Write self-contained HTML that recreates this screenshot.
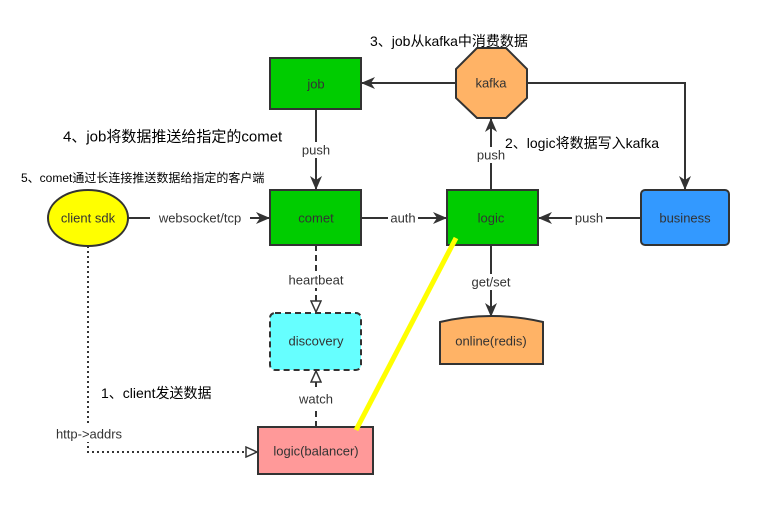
<!DOCTYPE html>
<html><head><meta charset="utf-8"><style>
body{margin:0;background:#fff}
svg text{font-family:"Liberation Sans","Noto Sans CJK SC",sans-serif}
</style></head><body>
<svg width="761" height="506" xmlns="http://www.w3.org/2000/svg">
<defs>
<marker id="a" markerWidth="14" markerHeight="12" refX="13" refY="6" orient="auto" markerUnits="userSpaceOnUse"><path d="M0,0 L14,6 L0,12 L4,6 Z" fill="#333"/></marker>
<marker id="h" markerWidth="13" markerHeight="12" refX="12" refY="6" orient="auto" markerUnits="userSpaceOnUse"><path d="M1,1 L12,6 L1,11 Z" fill="#fff" stroke="#333" stroke-width="1.5"/></marker>
</defs>
<g stroke="#333" stroke-width="2" fill="none">
<line x1="456" y1="83" x2="362" y2="83" marker-end="url(#a)"/>
<polyline points="527,83 685,83 685,189" marker-end="url(#a)"/>
<line x1="491" y1="190" x2="491" y2="119" marker-end="url(#a)"/>
<line x1="316" y1="109" x2="316" y2="189" marker-end="url(#a)"/>
<line x1="128" y1="218" x2="269" y2="218" marker-end="url(#a)"/>
<line x1="361" y1="218" x2="446" y2="218" marker-end="url(#a)"/>
<line x1="641" y1="218" x2="539" y2="218" marker-end="url(#a)"/>
<line x1="491" y1="245" x2="491" y2="316" marker-end="url(#a)"/>
<line x1="316" y1="245" x2="316" y2="312" stroke-dasharray="6,4" marker-end="url(#h)"/>
<line x1="316" y1="427" x2="316" y2="371" stroke-dasharray="6,4" marker-end="url(#h)"/>
<polyline points="88,246 88,452 257,452" stroke-dasharray="2,3" marker-end="url(#h)"/>
</g>
<rect x="270" y="58" width="91" height="51" fill="#00cc00" stroke="#333" stroke-width="2"/>
<polygon points="477,48 506,48 527,69 527,98 506,118 477,118 456,98 456,69" fill="#ffb366" stroke="#333" stroke-width="2"/>
<rect x="270" y="190" width="91" height="55" fill="#00cc00" stroke="#333" stroke-width="2"/>
<rect x="447" y="190" width="91" height="55" fill="#00cc00" stroke="#333" stroke-width="2"/>
<rect x="641" y="190" width="88" height="55" rx="4" fill="#3399ff" stroke="#333" stroke-width="2"/>
<ellipse cx="88" cy="218" rx="40" ry="28" fill="#ffff00" stroke="#333" stroke-width="2"/>
<rect x="270" y="313" width="91" height="57" rx="5" fill="#66ffff" stroke="#333" stroke-width="2" stroke-dasharray="6,4"/>
<path d="M440,322 Q491,310 543,322 L543,364 L440,364 Z" fill="#ffb366" stroke="#333" stroke-width="2"/>
<rect x="258" y="427" width="115" height="47" fill="#ff9999" stroke="#333" stroke-width="2"/>
<line x1="456" y1="238" x2="356" y2="430" stroke="#ffff00" stroke-width="5"/>
<g font-size="13" fill="#333" text-anchor="middle" dominant-baseline="central">
<text x="316" y="84">job</text><text x="491" y="83">kafka</text>
<text x="316" y="218">comet</text><text x="491" y="218">logic</text>
<text x="685" y="218">business</text><text x="88" y="218">client sdk</text>
<text x="316" y="341">discovery</text><text x="491" y="341">online(redis)</text>
<text x="316" y="451">logic(balancer)</text>
</g>
<g font-size="13" fill="#333" text-anchor="middle" dominant-baseline="central">
<rect x="298" y="142" width="36" height="16" fill="#fff"/><text x="316" y="150">push</text>
<rect x="473" y="147" width="36" height="16" fill="#fff"/><text x="491" y="155">push</text>
<rect x="150" y="210" width="100" height="16" fill="#fff"/><text x="200" y="218">websocket/tcp</text>
<rect x="388" y="210" width="30" height="16" fill="#fff"/><text x="403" y="218">auth</text>
<rect x="572" y="210" width="34" height="16" fill="#fff"/><text x="589" y="218">push</text>
<rect x="282" y="272" width="68" height="16" fill="#fff"/><text x="316" y="280">heartbeat</text>
<rect x="465" y="274" width="52" height="16" fill="#fff"/><text x="491" y="282">get/set</text>
<rect x="296" y="391" width="40" height="16" fill="#fff"/><text x="316" y="399">watch</text>
<rect x="48" y="426" width="82" height="16" fill="#fff"/><text x="89" y="434">http-&gt;addrs</text>
</g>
<g fill="#000" dominant-baseline="central">
<text x="370" y="41" font-size="14">3、job从kafka中消费数据</text>
<text x="63" y="137" font-size="15">4、job将数据推送给指定的comet</text>
<text x="21" y="178" font-size="12">5、comet通过长连接推送数据给指定的客户端</text>
<text x="505" y="143" font-size="14">2、logic将数据写入kafka</text>
<text x="101" y="393" font-size="14">1、client发送数据</text>
</g>
</svg>
</body></html>
